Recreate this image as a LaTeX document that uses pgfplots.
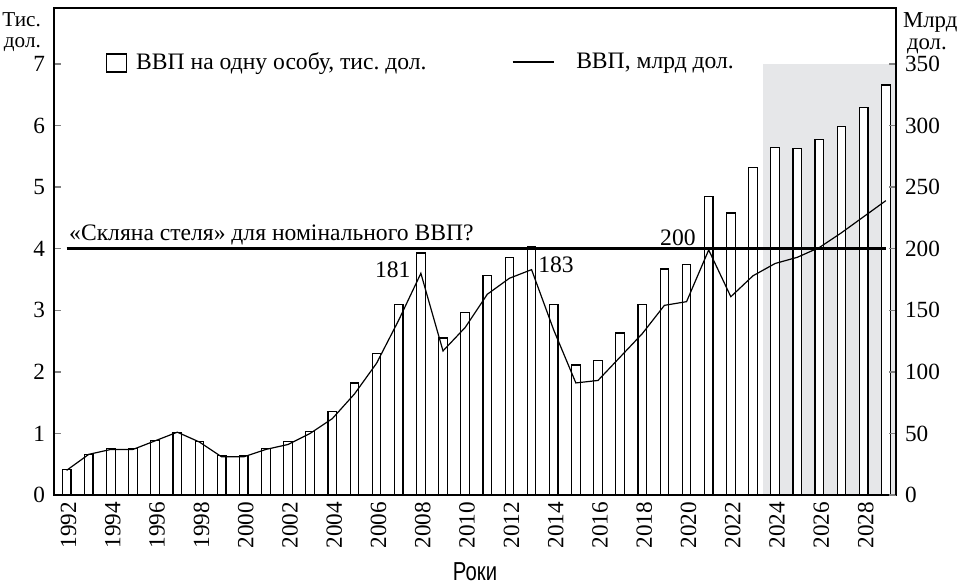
\documentclass[border=0pt]{standalone}
\usepackage{fontspec}
\setmainfont{Liberation Serif}
\newfontfamily\narrowsans[FakeStretch=0.78]{Liberation Sans}
\usepackage{pgfplots}
\usepackage{pgfplotstable}
\pgfplotsset{compat=1.18}
\definecolor{shade}{RGB}{230,231,233}
\frenchspacing

\pgfplotstableread{
year pc gdp
1992 0.42 20
1993 0.66 33
1994 0.75 37
1995 0.75 37
1996 0.89 44
1997 1.02 51
1998 0.87 43
1999 0.64 31
2000 0.64 31
2001 0.75 37
2002 0.87 41
2003 1.03 50
2004 1.36 62
2005 1.82 82
2006 2.30 107
2007 3.09 142
2008 3.93 180
2009 2.55 117
2010 2.96 136
2011 3.57 163
2012 3.86 176
2013 4.04 183
2014 3.10 134
2015 2.11 91
2016 2.19 93
2017 2.63 112
2018 3.10 131
2019 3.67 154
2020 3.75 157
2021 4.85 199
2022 4.58 161
2023 5.32 178
2024 5.65 188
2025 5.63 193
2026 5.77 201
2027 5.98 213
2028 6.30 226
2029 6.66 239
}\data

\begin{document}
\begin{tikzpicture}[font=\fontsize{11.8}{11.8}\selectfont]
\begin{axis}[name=ax, scale only axis, width=421pt, height=243.5pt,
  xmin=1991.43, xmax=2029.46, ymin=0, ymax=7.91,
  axis on top,
  axis line style={line width=0.7pt},
  tick label style={font=\fontsize{11.6}{11.6}\selectfont},
  ytick={0,1,...,7}, ytick pos=left, tick align=inside,
  major tick length=3.5pt,
  y tick style={line width=0.7pt},
  yticklabel style={xshift=-1pt},
  xtick={1992,1994,...,2028}, xtick pos=bottom,
  x tick style={draw=none},
  xticklabel style={rotate=90, anchor=east, xshift=0pt, yshift=-1pt},
  /pgf/number format/1000 sep={},
  /pgf/number format/assume math mode=true,
  xlabel={\narrowsans\fontsize{13}{13}\selectfont Роки},
  xlabel style={at={(axis description cs:0.5,0)}, anchor=center, yshift=-38.5pt},
  legend image code/.code={\draw[line width=0.6pt, fill=white] (0pt,-4.5pt) rectangle (10pt,4.5pt); \path (14.5pt,0pt);},
  legend style={at={(axis description cs:0.0618,0.887)}, anchor=west, draw=none, fill=none, inner sep=0pt, outer sep=0pt, nodes={inner sep=0pt, anchor=west}},
]
\addplot[fill=shade, draw=none, forget plot] coordinates {(2023.44,7) (2029.46,7)} \closedcycle;
\addplot[ybar, bar width=4.3pt, bar shift=0pt, fill=white, draw=black, line width=0.6pt] table[x=year, y=pc] {\data};
\addlegendentry{ВВП на одну особу, тис. дол.}
\node[anchor=base west, inner sep=0pt] at (axis cs:1992.1,4.133) {«Скляна стеля» для номінального ВВП?};
\node[anchor=base east, inner sep=0pt] at (axis cs:2007.55,3.54) {181};
\node[anchor=base west, inner sep=0pt] at (axis cs:2013.29,3.61) {183};
\node[anchor=base, inner sep=0pt] at (axis cs:2019.61,4.06) {200};
\end{axis}
\begin{axis}[scale only axis, width=421pt, height=243.5pt,
  xmin=1991.43, xmax=2029.46, ymin=0, ymax=395.5,
  axis x line=none, axis y line*=right,
  axis line style={line width=0.7pt, -},
  tick label style={font=\fontsize{11.6}{11.6}\selectfont},
  ytick={0,50,...,350}, tick align=inside,
  major tick length=3.5pt,
  y tick style={line width=0.7pt},
  yticklabel style={xshift=1pt},
  /pgf/number format/assume math mode=true,
  legend image code/.code={\draw[line width=0.6pt] (0pt,0pt) -- (20.5pt,0pt); \path (31.5pt,0pt);},
  legend style={at={(axis description cs:0.544,0.889)}, anchor=west, draw=none, fill=none, inner sep=0pt, outer sep=0pt, nodes={inner sep=0pt, anchor=west}},
]
\addplot[black, line width=0.6pt] table[x=year, y=gdp] {\data};
\addlegendentry{ВВП, млрд дол.}
\addplot[black, line width=1.3pt, forget plot] coordinates {(1992,200) (2029,200)};
\end{axis}
\node[anchor=north west, align=right, inner sep=0pt, font=\fontsize{10.6}{10.6}\selectfont] at ([shift={(-26pt,-2.2pt)}]ax.north west) {Тис.\\[0pt]дол.};
\node[anchor=north west, align=left, inner sep=0pt, font=\fontsize{11.4}{11.4}\selectfont] at ([shift={(3.3pt,-2pt)}]ax.north east) {Млрд\\[-0.5pt]\hspace*{2pt}дол.};
\pgfresetboundingbox
\path ([shift={(-27pt,-45pt)}]ax.south west) rectangle ([shift={(33pt,4pt)}]ax.north east);
\end{tikzpicture}
\end{document}
